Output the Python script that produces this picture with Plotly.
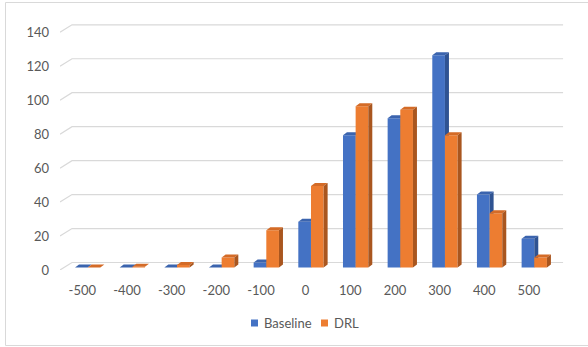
import plotly.graph_objects as go

# Distribution of values for two methods (3D clustered column style)
categories = ["-500", "-400", "-300", "-200", "-100", "0", "100", "200", "300", "400", "500"]
baseline = [0, 0, 0, 0, 3, 27, 78, 88, 125, 43, 17]
drl = [0, 0.5, 1.5, 6, 22, 48, 95, 93, 78, 32, 6]
y_ticks = [0, 20, 40, 60, 80, 100, 120, 140]

W, H = 588, 347
# front plane of the plot area, in pixels
PX_LEFT, CAT_PX = 60.0, 44.66
PX_ZERO, PX_PER_UNIT = 270.0, 1.698
WALL_PX_X, WALL_PX_Y = 12.0, 7.5
n = len(categories)
Y_MAX = 140

def dxu(px):  # horizontal pixels -> category units
    return px / CAT_PX

def dyu(px):  # vertical pixels -> value units
    return px / PX_PER_UNIT

# depth of the back wall and of the columns
WALL_DX, WALL_DY = dxu(WALL_PX_X), dyu(WALL_PX_Y)
COL_DX, COL_DY = dxu(4), dyu(3)
COL_BASE = dyu(2.4)
COL_W = dxu(12.66)
OFFSETS = {"Baseline": -0.164, "DRL": -0.164 + COL_W}

# axis ranges include the receding wall so nothing is clipped
x_lo, x_hi = -0.5, n - 0.5 + WALL_DX
y_lo, y_hi = 0, Y_MAX + WALL_DY + 1
px_x_hi = PX_LEFT + (x_hi - x_lo) * CAT_PX
px_y_hi = PX_ZERO - y_hi * PX_PER_UNIT

fig = go.Figure()

# back-wall gridlines with the short receding segment at the left
gx, gy = [], []
for v in y_ticks:
    gx += [-0.5, -0.5 + WALL_DX, n - 0.5 + WALL_DX, None]
    gy += [v, v + WALL_DY, v + WALL_DY, None]
fig.add_trace(go.Scatter(x=gx, y=gy, mode="lines", line=dict(color="#d9d9d9", width=1.2),
                         hoverinfo="skip", showlegend=False))

series = [
    ("Baseline", baseline, "#4472C4", "#3B64AE", "#2F5392"),
    ("DRL", drl, "#ED7D31", "#D46B27", "#A9561F"),
]

for name, vals, c_front, c_top, c_side in series:
    fx, fy, tx, ty, sx, sy = [], [], [], [], [], []
    for i, v in enumerate(vals):
        x0 = i + OFFSETS[name]
        x1 = x0 + COL_W
        b = COL_BASE
        t = b + v
        fx += [x0, x1, x1, x0, x0, None]
        fy += [b, b, t, t, b, None]
        tx += [x0, x1, x1 + COL_DX, x0 + COL_DX, x0, None]
        ty += [t, t, t + COL_DY, t + COL_DY, t, None]
        sx += [x1, x1 + COL_DX, x1 + COL_DX, x1, x1, None]
        sy += [b, b + COL_DY, t + COL_DY, t, b, None]
    for xs, ys, col in ((fx, fy, c_front), (tx, ty, c_top), (sx, sy, c_side)):
        fig.add_trace(go.Scatter(x=xs, y=ys, fill="toself", fillcolor=col, mode="lines",
                                 line=dict(width=0, color=col), hoverinfo="skip",
                                 showlegend=False, name=name))

font = dict(family="Lato, 'Open Sans', sans-serif", size=13, color="#595959")

# legend: coloured keys plus series names
legend_items = [("Baseline", "#4472C4", 251.0), ("DRL", "#ED7D31", 321.0)]
LEG_Y = 323.0
shapes = [dict(type="rect", xref="paper", yref="paper",
               x0=5.5 / W, x1=1.02, y0=(H - 345.5) / H, y1=(H - 2.5) / H,
               line=dict(color="#d9d9d9", width=1), fillcolor="rgba(0,0,0,0)",
               layer="below")]
annotations = []
for label, col, px in legend_items:
    shapes.append(dict(type="rect", xref="paper", yref="paper",
                       x0=px / W, x1=(px + 7) / W,
                       y0=(H - LEG_Y - 3.5) / H, y1=(H - LEG_Y + 3.5) / H,
                       line=dict(width=0), fillcolor=col))
    annotations.append(dict(text=label, xref="paper", yref="paper",
                            x=(px + 11) / W, y=(H - LEG_Y) / H,
                            xanchor="left", yanchor="middle", showarrow=False,
                            font=font))

fig.update_layout(
    width=W, height=H,
    margin=dict(l=0, r=0, t=0, b=0, autoexpand=False),
    paper_bgcolor="white", plot_bgcolor="rgba(0,0,0,0)",
    font=font,
    xaxis=dict(domain=[PX_LEFT / W, px_x_hi / W], range=[x_lo, x_hi],
               tickmode="array", tickvals=list(range(n)), ticktext=categories,
               showgrid=False, zeroline=False, showline=False, ticks="",
               ticklabelstandoff=11, fixedrange=True, automargin=False),
    yaxis=dict(domain=[(H - PX_ZERO) / H, (H - px_y_hi) / H], range=[y_lo, y_hi],
               tickmode="array", tickvals=y_ticks,
               showgrid=False, zeroline=False, showline=False, ticks="",
               ticklabelstandoff=10, fixedrange=True, automargin=False),
    showlegend=False,
    shapes=shapes,
    annotations=annotations,
)

fig.write_html("out.html")
